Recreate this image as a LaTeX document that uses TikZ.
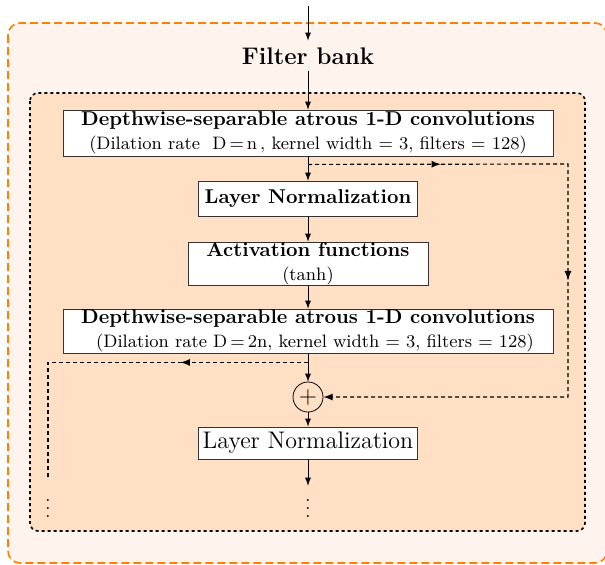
\documentclass[tikz,border=0pt]{standalone}
\usepackage{amsmath}
\usepackage{tikz}
\usetikzlibrary{decorations.markings}
\usetikzlibrary{arrows,positioning,shapes}
\definecolor{bankfill}{RGB}{255,243,237}
\definecolor{stagefill}{RGB}{255,224,196}
\definecolor{bankline}{RGB}{255,128,0}
\begin{document}
\begin{tikzpicture}[x=0.5pt,y=-0.5pt,
		block/.style={draw=black!80,fill=white,inner sep=0pt,align=center},
		flow/.style={-latex},
		skip/.style={dash pattern=on 2pt off 1.5pt,semithick}]
		\useasboundingbox (0,0) rectangle (605,564);
		\draw[bankline,thick,dash pattern=on 4pt off 2pt,fill=bankfill,rounded corners=6pt] (8,23) rectangle (607,563);
		\draw[black,thick,dash pattern=on 1.5pt off 1.5pt,fill=stagefill,rounded corners=4pt] (30,93) rectangle (585,531);
		\coordinate (input) at (308,6);
		\node[font=\large\bfseries] (bank) at (308,56) {Filter bank};
		\node[block,minimum width=245pt,minimum height=23pt] (conv1) at (308,133) {\textbf{Depthwise-separable atrous 1-D convolutions}\\{\small(Dilation rate \ D\,$=$\,n\,, kernel width $=$ 3, filters $=$ 128)}};
		\node[block,minimum width=109.5pt,minimum height=17.5pt,font=\bfseries] (norm1) at (308,198.5) {Layer Normalization};
		\node[block,minimum width=120pt,minimum height=21.5pt] (act) at (308,263.5) {\textbf{Activation functions}\\{\small(tanh)}};
		\node[block,minimum width=245pt,minimum height=22pt] (conv2) at (308,331) {\textbf{Depthwise-separable atrous 1-D convolutions}\\{\small\hspace*{7pt}(Dilation rate D\,$=$\,2n, kernel width $=$ 3, filters $=$ 128)}};
		\node[draw,circle,inner sep=0pt,minimum size=15pt] (add) at (308,397) {\large$+$};
		\node[block,minimum width=109.5pt,minimum height=16pt,font=\large] (norm2) at (308,443) {Layer Normalization};
		\node[inner sep=1pt,font=\small] (more) at (308,503) {$\vdots$};
		\node[inner sep=1pt,font=\small] (moreskip) at (48,503) {$\vdots$};
		\coordinate[below=4pt of conv1] (branch);
		\coordinate (loopright) at (568,164);
		\coordinate[below=4.5pt of conv2] (feed);
		\coordinate (feedend) at (48,477);
		\draw[flow] (input) -- (bank);
		\draw[flow] (bank) -- (conv1);
		\draw[flow] (conv1) -- (norm1);
		\draw[flow] (norm1) -- (act);
		\draw[flow] (act) -- (conv2);
		\draw[flow] (conv2) -- (add);
		\draw[flow] (add) -- (norm2);
		\draw[flow] (norm2) -- (more);
		\draw[skip,-latex,decoration={markings,mark=at position 0.18 with {\arrow{latex}},mark=at position 0.51 with {\arrow{latex}}},postaction={decorate}] (branch) -- (loopright) |- (add);
		\draw[skip,decoration={markings,mark=at position 0.34 with {\arrow{latex}}},postaction={decorate}] (feed) -- (feedend |- feed) -- (feedend);
	\end{tikzpicture}
\end{document}
